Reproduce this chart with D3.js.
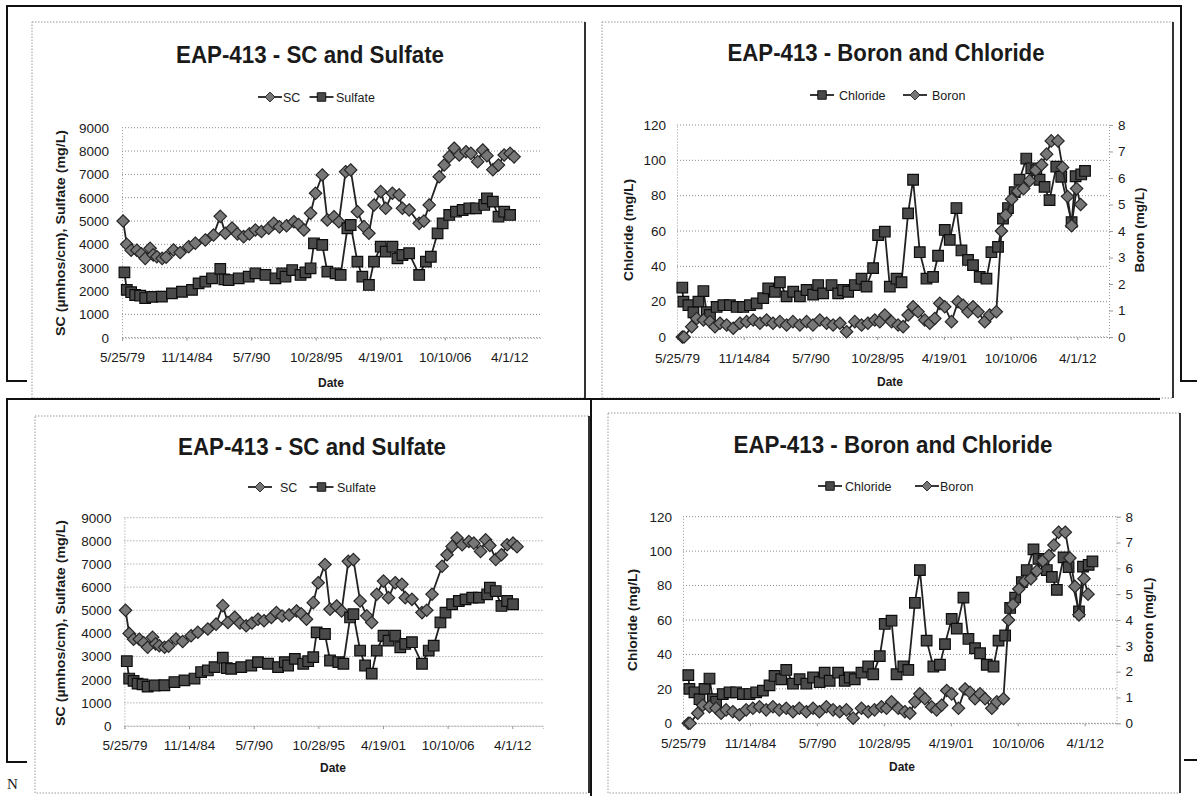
<!DOCTYPE html>
<html>
<head>
<meta charset="utf-8">
<script src="https://cdn.jsdelivr.net/npm/d3@7"></script>
<style>
  html, body { margin: 0; padding: 0; background: #fff; }
  svg { display: block; }
  text { font-family: "Liberation Sans", Arial, sans-serif; fill: #1a1a1a; }
</style>
</head>
<body>
<svg id="chart" width="1197" height="796"></svg>
<script>
// ---------------- DATA ----------------
const xTickDates  = ["1979-05-25","1984-11-14","1990-05-07","1995-10-28","2001-04-19","2006-10-10","2012-04-01"];
const xTickLabels = ["5/25/79","11/14/84","5/7/90","10/28/95","4/19/01","10/10/06","4/1/12"];
const axisSpanDays = 12950;

const scTicks       = [0,1000,2000,3000,4000,5000,6000,7000,8000,9000];
const chlorideTicks = [0,20,40,60,80,100,120];
const boronTicks    = [0,1,2,3,4,5,6,7,8];

// [decimal year, value]
const scData = [[1979.49,5000],[1979.80,4000],[1980.17,3750],[1980.65,3750],[1981.02,3600],[1981.36,3400],[1981.78,3830],[1982.04,3550],[1982.35,3470],[1982.80,3400],[1983.14,3450],[1983.76,3760],[1984.33,3650],[1985.04,3900],[1985.61,4050],[1986.46,4190],[1987.16,4400],[1987.73,5200],[1988.16,4475],[1988.73,4700],[1989.18,4450],[1989.71,4330],[1990.20,4450],[1990.71,4615],[1991.22,4550],[1991.84,4690],[1992.27,4900],[1992.75,4750],[1993.35,4800],[1993.97,4970],[1994.37,4850],[1994.82,4615],[1995.39,5330],[1995.81,6190],[1996.38,6975],[1996.81,5045],[1997.37,5186],[1997.79,4970],[1998.36,7115],[1998.79,7190],[1999.36,5400],[1999.92,4760],[2000.34,4475],[2000.77,5690],[2001.34,6260],[2001.76,5545],[2002.33,6190],[2002.90,6120],[2003.18,5545],[2003.75,5473],[2004.60,4900],[2005.00,5000],[2005.45,5690],[2006.30,6900],[2006.72,7400],[2007.15,7760],[2007.57,8120],[2008.00,7830],[2008.57,7970],[2008.99,7900],[2009.56,7545],[2009.99,8045],[2010.35,7800],[2010.85,7200],[2011.33,7400],[2011.81,7830],[2012.31,7900],[2012.65,7750]];

const sulfateData = [[1979.60,2800],[1979.80,2050],[1980.17,1950],[1980.51,1830],[1980.93,1800],[1981.36,1700],[1981.95,1750],[1982.78,1760],[1983.63,1900],[1984.48,1970],[1985.33,2050],[1985.89,2330],[1986.46,2400],[1987.03,2545],[1987.73,2950],[1988.07,2500],[1988.44,2470],[1989.29,2545],[1990.14,2615],[1990.71,2760],[1991.56,2690],[1992.41,2545],[1992.98,2760],[1993.26,2615],[1993.83,2900],[1994.54,2690],[1994.96,2800],[1995.39,2975],[1995.68,4045],[1996.38,3975],[1996.81,2830],[1997.51,2760],[1997.94,2690],[1998.51,4690],[1998.79,4830],[1999.36,3260],[1999.78,2615],[2000.34,2260],[2000.77,3260],[2001.34,3900],[2001.76,3690],[2002.33,3900],[2002.76,3400],[2003.18,3545],[2003.75,3620],[2004.60,2690],[2005.17,3260],[2005.59,3470],[2006.16,4475],[2006.59,4900],[2007.15,5260],[2007.72,5400],[2008.29,5473],[2008.85,5545],[2009.42,5545],[2010.12,5690],[2010.35,5975],[2010.85,5830],[2011.33,5186],[2011.81,5400],[2012.31,5260]];

const chlorideData = [[1979.83,28],[1979.92,20],[1980.33,18],[1980.74,14],[1981.15,20],[1981.56,26],[1981.83,14],[1982.10,12.5],[1982.65,17],[1983.20,18],[1983.74,18],[1984.29,17],[1984.83,17],[1985.38,18],[1985.93,19],[1986.47,22],[1986.88,27.5],[1987.43,25.6],[1987.84,31],[1988.39,23],[1988.93,25.6],[1989.48,23],[1990.03,26.6],[1990.57,24],[1990.98,29.4],[1991.39,24.7],[1992.08,29.4],[1992.62,24.7],[1993.03,26.6],[1993.44,25.6],[1993.99,29.4],[1994.54,33],[1994.95,28.5],[1995.49,39],[1995.90,57.7],[1996.45,59.6],[1996.86,28.5],[1997.41,33],[1997.82,31],[1998.36,70],[1998.77,89],[1999.32,48],[1999.87,33],[2000.41,34],[2000.82,46],[2001.37,60.6],[2001.78,55],[2002.33,73],[2002.74,49],[2003.28,43.6],[2003.69,40.7],[2004.24,34],[2004.79,33],[2005.20,48],[2005.74,51],[2006.15,67],[2006.56,73],[2007.11,82],[2007.51,89],[2008.06,101],[2008.47,95.5],[2008.88,94.5],[2009.15,89],[2009.56,85],[2009.97,77.5],[2010.52,96.4],[2010.93,90.7],[2011.78,65],[2012.11,91],[2012.57,92],[2012.88,94]];

const boronData = [[1979.83,0],[1979.97,0],[1980.60,0.39],[1981.01,0.7],[1981.56,0.64],[1982.10,0.58],[1982.51,0.39],[1982.92,0.52],[1983.47,0.45],[1984.01,0.33],[1984.56,0.52],[1985.11,0.58],[1985.65,0.64],[1986.20,0.52],[1986.75,0.64],[1987.27,0.52],[1987.84,0.58],[1988.39,0.45],[1988.91,0.58],[1989.48,0.45],[1990.03,0.58],[1990.55,0.45],[1991.12,0.64],[1991.67,0.52],[1992.21,0.45],[1992.76,0.52],[1993.31,0.2],[1993.99,0.58],[1994.54,0.45],[1995.06,0.52],[1995.63,0.64],[1996.04,0.58],[1996.45,0.83],[1997.00,0.58],[1997.54,0.45],[1997.95,0.39],[1998.36,0.83],[1998.77,1.14],[1999.18,0.95],[1999.73,0.64],[2000.14,0.52],[2000.55,0.7],[2000.96,1.27],[2001.37,1.14],[2001.92,0.58],[2002.46,1.33],[2002.87,1.2],[2003.28,0.95],[2003.69,1.14],[2004.10,0.95],[2004.65,0.58],[2005.06,0.83],[2005.60,0.95],[2006.02,4.0],[2006.37,4.6],[2006.86,5.2],[2007.35,5.5],[2007.84,5.6],[2008.33,5.9],[2008.83,6.3],[2009.32,6.5],[2009.73,6.9],[2010.11,7.4],[2010.66,7.4],[2011.04,6.4],[2011.45,5.3],[2011.78,4.2],[2012.19,5.6],[2012.52,5.0]];

// ---------------- HELPERS ----------------
const parseDay = d3.utcParse("%Y-%m-%d");
const t0 = parseDay(xTickDates[0]);
const tickDates = xTickDates.map(parseDay);
function yearToDate(y) {
  const yr = Math.floor(y);
  const s = Date.UTC(yr, 0, 1), e = Date.UTC(yr + 1, 0, 1);
  return new Date(s + (y - yr) * (e - s));
}
const diamondPath = "M0,-6.2L6.2,0L0,6.2L-6.2,0Z";
const squarePath  = "M-5.3,-5.3H5.3V5.3H-5.3Z";
const markerStyle = {
  diamond: {path: diamondPath, fill: "#777", stroke: "#262626"},
  square:  {path: squarePath,  fill: "#4a4a4a", stroke: "#0d0d0d"}
};

const svg = d3.select("#chart");

// ---------------- PANEL LAYOUTS ----------------
const scPanel = (o) => ({
  box: o.box, plot: o.plot, title: o.title, legendY: o.legendY, legend: o.legend,
  yTitle: o.yTitle, date: o.date, tickY: o.tickY,
  titleText: "EAP-413 - SC and Sulfate",
  left: {ticks: scTicks, max: 9000, title: "SC (µmhos/cm), Sulfate (mg/L)"},
  right: null,
  series: [
    {name: "SC", data: scData, axis: "left", marker: "diamond"},
    {name: "Sulfate", data: sulfateData, axis: "left", marker: "square"}
  ]
});
const clPanel = (o) => ({
  box: o.box, plot: o.plot, title: o.title, legendY: o.legendY, legend: o.legend,
  yTitle: o.yTitle, yTitleR: o.yTitleR, date: o.date, tickY: o.tickY,
  titleText: "EAP-413 - Boron and Chloride",
  left: {ticks: chlorideTicks, max: 120, title: "Chloride (mg/L)"},
  right: {ticks: boronTicks, max: 8, title: "Boron (mg/L)"},
  series: [
    {name: "Chloride", data: chlorideData, axis: "left", marker: "square"},
    {name: "Boron", data: boronData, axis: "right", marker: "diamond"}
  ]
});

const panels = [
  scPanel({box:[32,22,553,376], plot:{l:122,r:540,t:127.7,b:337.7}, title:{x:310,y:63,w:268},
           legendY:97, legend:[{sym:270,text:283},{sym:321.5,text:336}],
           yTitle:{x:65,y:233,w:206}, date:{x:331,y:387}, tickY:362}),
  clPanel({box:[602,22,571,376], plot:{l:677,r:1109,t:125,b:337}, title:{x:886,y:61,w:317},
           legendY:95, legend:[{sym:822,text:839},{sym:915,text:932}],
           yTitle:{x:633,y:230,w:102}, yTitleR:{x:1144,y:230,w:85}, date:{x:890,y:386}, tickY:363}),
  scPanel({box:[35,416,554,377], plot:{l:124.4,r:543,t:517.7,b:726}, title:{x:312,y:455,w:268},
           legendY:487, legend:[{sym:260,text:280},{sym:321.5,text:337}],
           yTitle:{x:65,y:623,w:206}, date:{x:333,y:772}, tickY:750}),
  clPanel({box:[608,413,572,380], plot:{l:683,r:1116.5,t:516.7,b:723.3}, title:{x:893,y:453,w:319},
           legendY:486, legend:[{sym:830,text:845},{sym:927,text:940}],
           yTitle:{x:637,y:620,w:102}, yTitleR:{x:1153,y:620,w:85}, date:{x:902,y:771}, tickY:748})
];

// ---------------- DRAW ----------------
function drawPanel(p) {
  const g = svg.append("g");
  const [bx, by, bw, bh] = p.box;
  g.append("rect").attr("x", bx).attr("y", by).attr("width", bw).attr("height", bh)
    .attr("fill", "#fff").attr("stroke", "#9a9a9a").attr("stroke-width", 1)
    .attr("stroke-dasharray", "1.5,1.5");
  g.append("line").attr("x1", bx + bw).attr("x2", bx + bw).attr("y1", by).attr("y2", by + bh)
    .attr("stroke", "#333").attr("stroke-width", 2);

  const x = d3.scaleUtc().domain([t0, d3.utcDay.offset(t0, axisSpanDays)]).range([p.plot.l, p.plot.r]);
  const yL = d3.scaleLinear().domain([0, p.left.max]).range([p.plot.b, p.plot.t]);
  const yR = p.right ? d3.scaleLinear().domain([0, p.right.max]).range([p.plot.b, p.plot.t]) : null;

  // gridlines
  g.append("g").selectAll("line").data(p.left.ticks).join("line")
    .attr("x1", p.plot.l).attr("x2", p.plot.r)
    .attr("y1", d => yL(d)).attr("y2", d => yL(d))
    .attr("stroke", "#8c8c8c").attr("stroke-width", 1).attr("stroke-dasharray", "1,2");

  // left axis
  const ax = g.append("g").attr("transform", `translate(${p.plot.l},0)`)
    .call(d3.axisLeft(yL).tickValues(p.left.ticks).tickFormat(d3.format("d")).tickSize(0).tickPadding(p.right ? 11 : 13));
  ax.select(".domain").attr("stroke", "#999").attr("stroke-dasharray", "1,2");
  ax.selectAll("text").style("font-size", "13.5px").attr("fill", "#1a1a1a");

  if (yR) {
    const ar = g.append("g").attr("transform", `translate(${p.plot.r},0)`)
      .call(d3.axisRight(yR).tickValues(p.right.ticks).tickFormat(d3.format("d")).tickSize(4).tickPadding(5));
    ar.select(".domain").attr("stroke", "#999").attr("stroke-dasharray", "1,2");
    ar.selectAll(".tick line").attr("stroke", "#999");
    ar.selectAll("text").style("font-size", "13.5px").attr("fill", "#1a1a1a");
  }

  // bottom axis
  const bxis = g.append("g").attr("transform", `translate(0,${p.plot.b})`)
    .call(d3.axisBottom(x).tickValues(tickDates).tickFormat((d, i) => xTickLabels[i]).tickSize(3).tickPadding(p.tickY - p.plot.b - 13));
  bxis.select(".domain").attr("stroke", "#999").attr("stroke-dasharray", "1,2");
  bxis.selectAll(".tick line").attr("stroke", "#999");
  bxis.selectAll("text").style("font-size", "13.5px").attr("fill", "#1a1a1a");

  // series
  p.series.forEach(s => {
    const y = s.axis === "left" ? yL : yR;
    const line = d3.line().x(d => x(yearToDate(d[0]))).y(d => y(d[1]));
    g.append("path").datum(s.data).attr("d", line)
      .attr("fill", "none").attr("stroke", "#222").attr("stroke-width", 1.8);
    const ms = markerStyle[s.marker];
    g.append("g").selectAll("path").data(s.data).join("path")
      .attr("d", ms.path)
      .attr("transform", d => `translate(${x(yearToDate(d[0]))},${y(d[1])})`)
      .attr("fill", ms.fill).attr("stroke", ms.stroke).attr("stroke-width", 1.2);
  });

  // title
  g.append("text").attr("x", p.title.x).attr("y", p.title.y).attr("text-anchor", "middle")
    .attr("textLength", p.title.w).attr("lengthAdjust", "spacingAndGlyphs")
    .style("font-size", "23px").style("font-weight", "bold").attr("fill", "#000").text(p.titleText);

  // legend
  p.series.forEach((s, k) => {
    const L = p.legend[k], ms = markerStyle[s.marker];
    g.append("line").attr("x1", L.sym - 12).attr("x2", L.sym + 12)
      .attr("y1", p.legendY).attr("y2", p.legendY).attr("stroke", "#222").attr("stroke-width", 1.8);
    g.append("path").attr("d", ms.path).attr("transform", `translate(${L.sym},${p.legendY}) scale(0.8)`)
      .attr("fill", ms.fill).attr("stroke", ms.stroke).attr("stroke-width", 1.2);
    g.append("text").attr("x", L.text).attr("y", p.legendY + 4.5).style("font-size", "12.5px").text(s.name);
  });

  // axis titles
  g.append("text").attr("transform", `translate(${p.yTitle.x},${p.yTitle.y}) rotate(-90)`)
    .attr("text-anchor", "middle").attr("textLength", p.yTitle.w).attr("lengthAdjust", "spacingAndGlyphs")
    .style("font-size", "13px").style("font-weight", "bold").text(p.left.title);
  if (p.right) {
    g.append("text").attr("transform", `translate(${p.yTitleR.x},${p.yTitleR.y}) rotate(-90)`)
      .attr("text-anchor", "middle").attr("textLength", p.yTitleR.w).attr("lengthAdjust", "spacingAndGlyphs")
      .style("font-size", "13px").style("font-weight", "bold").text(p.right.title);
  }
  g.append("text").attr("x", p.date.x).attr("y", p.date.y).attr("text-anchor", "middle")
    .style("font-size", "12px").style("font-weight", "bold").text("Date");
}

panels.forEach(drawPanel);

// scanned page frame lines
const frame = svg.append("g").attr("fill", "none").attr("stroke", "#111").attr("stroke-width", 2);
frame.append("path").attr("d", "M27,381H7V6H1181V381H1197");
frame.append("path").attr("d", "M27,762H7V399H1160");
frame.append("path").attr("d", "M591,400V796");
frame.append("path").attr("d", "M1184,760H1197");
svg.append("text").attr("x", 7).attr("y", 789).style("font-family", "'Liberation Serif', serif")
  .style("font-size", "15px").attr("fill", "#111").text("N");
</script>
</body>
</html>
